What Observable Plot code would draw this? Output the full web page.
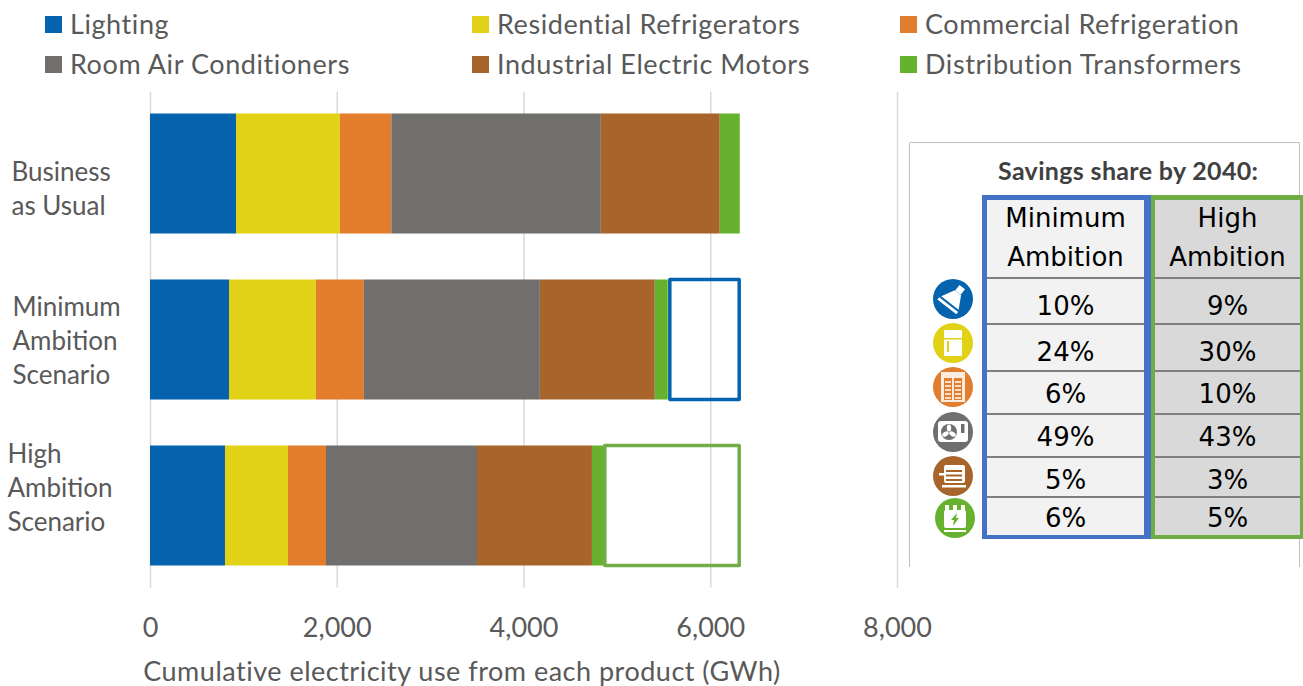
<!DOCTYPE html>
<html><head><meta charset="utf-8">
<script src="https://cdn.jsdelivr.net/npm/d3@7"></script>
<script src="https://cdn.jsdelivr.net/npm/@observablehq/plot@0.6"></script>
<style>
html,body{margin:0;padding:0;background:#fff;width:1303px;height:686px;overflow:hidden}
#wrap{position:relative;width:1303px;height:686px;font-family:Lato,sans-serif;color:#595959}
#chart{position:absolute;left:0;top:0}
.leg{position:absolute;font-size:27px;line-height:32px;white-space:nowrap;letter-spacing:.58px}
.leg i{position:absolute;left:-25px;top:8px;width:17px;height:17px}
#panel{position:absolute;left:909px;top:142px;width:391px;height:425px;border:1px solid #bfbfbf;border-bottom:none;border-radius:2px 2px 0 0;box-sizing:border-box}
#ptitle{position:absolute;left:998px;top:155px;font-weight:700;font-size:25px;line-height:30px;color:#404040;white-space:nowrap;letter-spacing:.34px}
.col{position:absolute;top:195px;height:344px;box-sizing:border-box;border-style:solid;color:#000;font-family:"DejaVu Sans",sans-serif;font-size:26px;text-align:center}
.cell{position:absolute;left:0;right:0;border-bottom:2.5px solid #7f7f7f;box-sizing:border-box}
.cell:last-child{border-bottom:none}
.cell div{position:absolute;left:0;right:0;line-height:39px}
#icons{position:absolute;left:925px;top:275px}
</style></head><body>
<div id="wrap"><div id="chart"></div><div id="panel"></div><div id="ptitle"></div><div id="legend"></div><div id="cols"></div><svg id="icons" width="60" height="270"></svg></div>
<script>
const scenarios = ["Business as Usual", "Minimum Ambition Scenario", "High Ambition Scenario"];
const products = ["Lighting", "Residential Refrigerators", "Commercial Refrigeration", "Room Air Conditioners", "Industrial Electric Motors", "Distribution Transformers"];
const colors = ["#0563AE", "#E1D217", "#E27D2D", "#706F6D", "#A7652C", "#66B22E"];
const businessAsUsual = [921, 1113, 551, 2243, 1274, 214];
const minimumAmbition = [846, 931, 514, 1884, 1231, 139];
const highAmbition = [803, 675, 407, 1617, 1231, 128];
const savedStart = [5567, 4871];
const savedEnd = [6310, 6310];
const savingsMinimum = ["10%", "24%", "6%", "49%", "5%", "6%"];
const savingsHigh = ["9%", "30%", "10%", "43%", "3%", "5%"];
const savingsTitle = "Savings share by 2040:";
const xTicks = [0, 2000, 4000, 6000, 8000];
const xLabel = "Cumulative electricity use from each product (GWh)";

const series = [businessAsUsual, minimumAmbition, highAmbition];
const rows = series.flatMap((vals, i) => vals.map((v, j) => ({scenario: scenarios[i], product: products[j], value: v})));
const savedBoxes = [
  {scenario: scenarios[1], x1: savedStart[0], x2: savedEnd[0], stroke: "#0563AE"},
  {scenario: scenarios[2], x1: savedStart[1], x2: savedEnd[1], stroke: "#70AD47"}
];
const yLabel = (s, dx, dy, lines) => Plot.text([s], {y: d => d, frameAnchor: "left", dx, dy, textAnchor: "start", text: () => lines, lineHeight: 1.3, fontSize: 26, fill: "#595959", lineAnchor: "middle"});

const plot = Plot.plot({
  width: 1303, height: 686,
  marginLeft: 150, marginRight: 406, marginTop: 91.5, marginBottom: 98.5,
  style: {fontFamily: "Lato, sans-serif", background: "transparent"},
  x: {domain: [0, 8000]},
  y: {domain: scenarios, paddingInner: 0.277, paddingOuter: 0.1325, round: false, label: null, axis: null},
  color: {domain: products, range: colors},
  marks: [
    Plot.ruleX(xTicks, {stroke: "#d9d9d9", strokeWidth: 1.5}),
    Plot.barX(rows, Plot.stackX({x: "value", y: "scenario", fill: "product", order: products})),
    Plot.barX(savedBoxes, {x1: "x1", x2: "x2", y: "scenario", fill: "none", stroke: "stroke", strokeWidth: 3.5, strokeLinejoin: "round"}),
    Plot.axisX({ticks: xTicks, tickSize: 0, tickPadding: 30, tickFormat: d3.format(","), fontSize: 27, color: "#595959", label: null}),
    Plot.text([xLabel], {frameAnchor: "bottom", dx: -62, dy: 93, fontSize: 27, fill: "#595959", text: d => d}),
    yLabel(scenarios[0], -139, 13, "Business\nas Usual"),
    yLabel(scenarios[1], -138, -1, "Minimum\nAmbition\nScenario"),
    yLabel(scenarios[2], -143, -20, "High\nAmbition\nScenario")
  ]
});
plot.querySelectorAll("text").forEach(t => { if (t.textContent.startsWith("Cumulative")) t.style.letterSpacing = ".5px"; });
document.getElementById("chart").append(plot);

document.getElementById("ptitle").textContent = savingsTitle;
const legendPos = [[70,8],[497,8],[925,8],[70,48],[497,48],[925,48]];
const legend = document.getElementById("legend");
products.forEach((p, i) => {
  const d = document.createElement("div"); d.className = "leg";
  d.style.left = legendPos[i][0] + "px"; d.style.top = legendPos[i][1] + "px";
  d.textContent = p;
  const sw = document.createElement("i"); sw.style.background = colors[i]; d.append(sw);
  legend.append(d);
});
const cellTops = [0, 79, 125, 172, 215, 258, 298];
const textTops = [-1, 8, 8, 3, 3, 3, 1];
const cols = document.getElementById("cols");
function col(left, width, borders, border, bg, head, vals) {
  const c = document.createElement("div"); c.className = "col";
  c.style.left = left + "px"; c.style.width = width + "px"; c.style.borderColor = border; c.style.background = bg;
  c.style.borderWidth = borders;
  [head, ...vals].forEach((t, i) => {
    const e = document.createElement("div"); e.className = "cell";
    e.style.top = cellTops[i] + "px";
    e.style.height = ((i < 6 ? cellTops[i+1] : 335) - cellTops[i]) + "px";
    const inner = document.createElement("div"); inner.innerHTML = t; inner.style.top = textTops[i] + "px";
    e.append(inner);
    c.append(e);
  });
  cols.append(c);
}
col(982, 169, "5px 7px 4px 5px", "#4472C4", "#F2F2F2", "Minimum<br>Ambition", savingsMinimum);
col(1151, 152, "5px 3px 4px 4px", "#70AD47", "#D9D9D9", "High<br>Ambition", savingsHigh);

const ic = [[28,24],[28,68],[28,112],[28,157],[28,201],[30,243]];
const glyphs = [
 `<g transform="rotate(38)" fill="#fff"><rect x="-3.5" y="-15" width="7" height="7"/><path d="M-4 -8 L4 -8 L11 5 L-11 5 Z"/><rect x="-12" y="7" width="24" height="3"/></g>`,
 `<rect x="-9" y="-13" width="18" height="26" rx="1" fill="#fff"/><rect x="-9" y="-5" width="18" height="1.5" fill="#E1D217"/><rect x="-6" y="-2" width="2" height="11" fill="#E1D217"/>`,
 `<rect x="-12" y="-15" width="24" height="30" fill="#fff" fill-opacity=".85"/><rect x="-9" y="-9" width="8" height="22" fill="#E27D2D"/><rect x="1" y="-9" width="8" height="22" fill="#E27D2D"/><path d="M-8 -5H-2M-8 -1H-2M-8 3H-2M-8 7H-2M-8 11H-2M2 -5H8M2 -1H8M2 3H8M2 7H8M2 11H8" stroke="#fff" stroke-width="1.6"/>`,
 `<rect x="-15" y="-11" width="30" height="21" rx="3" fill="#fff"/><circle cx="-4" cy="0" r="8" fill="#706F6D"/><g fill="#fff"><ellipse cx="-4" cy="-4" rx="2.2" ry="3.5"/><ellipse cx="-7.5" cy="2" rx="3.5" ry="2.2" transform="rotate(-30 -7.5 2)"/><ellipse cx="-.5" cy="2" rx="3.5" ry="2.2" transform="rotate(30 -.5 2)"/></g><rect x="8" y="-8" width="3.5" height="9" fill="#706F6D"/>`,
 `<rect x="-9" y="-11" width="21" height="18" rx="2" fill="#fff"/><rect x="-14" y="-3" width="5" height="2.5" fill="#fff"/><rect x="-11" y="9" width="24" height="2.5" fill="#fff"/><rect x="-7" y="-6" width="16" height="2" fill="#A7652C"/><rect x="-7" y="-1.5" width="16" height="2" fill="#A7652C"/><rect x="-7" y="3" width="16" height="2" fill="#A7652C"/>`,
 `<rect x="-11" y="-8" width="22" height="18" rx="2" fill="#fff"/><rect x="-10" y="-13" width="4" height="6" fill="#fff"/><rect x="-2" y="-13" width="4" height="6" fill="#fff"/><rect x="6" y="-13" width="4" height="6" fill="#fff"/><rect x="-11" y="12" width="22" height="2" fill="#fff"/><path d="M2 -5 L-4 2 L-1 2 L-2 8 L4 0 L1 0 Z" fill="#66B22E"/>`
];
document.getElementById("icons").innerHTML = ic.map((p,i)=>`<g transform="translate(${p[0]},${p[1]})"><circle r="20" fill="${colors[i]}"/>${glyphs[i]}</g>`).join("");
</script></body></html>
